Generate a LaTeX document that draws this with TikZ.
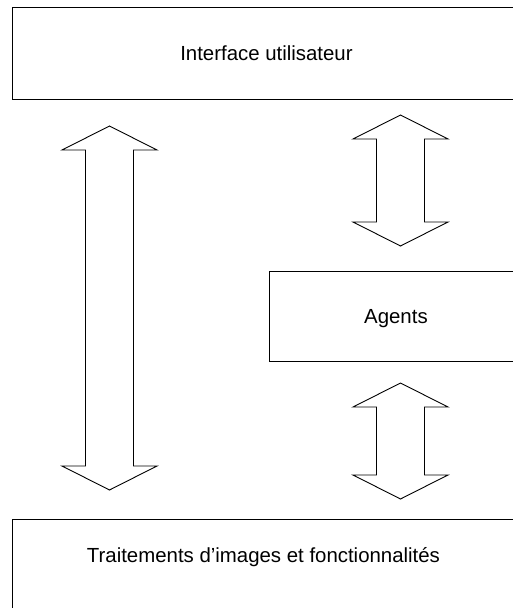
\documentclass[tikz,border=0pt]{standalone}
\usepackage{fontspec}
\setmainfont{Liberation Sans}
% Double-headed block arrow: #1 = centre x, #2 = top tip y, #3 = bottom tip y
\newcommand{\dblblockarrow}[3]{%
  \draw[blockarrow]
    (#1,#2) -- (#1+47.5,#2+24) -- (#1+24,#2+24) -- (#1+24,#3-24)
    -- (#1+47.5,#3-24) -- (#1,#3) -- (#1-47.5,#3-24) -- (#1-24,#3-24)
    -- (#1-24,#2+24) -- (#1-47.5,#2+24) -- cycle;}
\begin{document}
\begin{tikzpicture}[x=1pt,y=-1pt,
  layer/.style={draw=black, line width=0.9pt, rectangle, anchor=north west,
    inner sep=0pt, font=\fontsize{20.4}{24}\selectfont,
    text height=14.6pt, text depth=0pt},
  blockarrow/.style={draw=black, line width=0.9pt, line join=miter}]
\clip (0,0) rectangle (513,608);
\fill[white] (0,0) rectangle (513,608);
% the three layers (right sides run off the page)
\node[layer, minimum width=508pt, minimum height=92pt] (ui) at (12,7) {Interface utilisateur};
\node[layer, minimum width=253pt, minimum height=90pt] (agents) at (269,271) {Agents};
\node[layer, minimum width=502pt, minimum height=101pt, text depth=29.6pt] (core) at (12,519)
  {Traitements d’images et fonctionnalités};
% exchanges between the layers
\dblblockarrow{109.5}{126}{490}
\dblblockarrow{400.5}{115}{246}
\dblblockarrow{400.5}{383}{499}
\end{tikzpicture}
\end{document}
